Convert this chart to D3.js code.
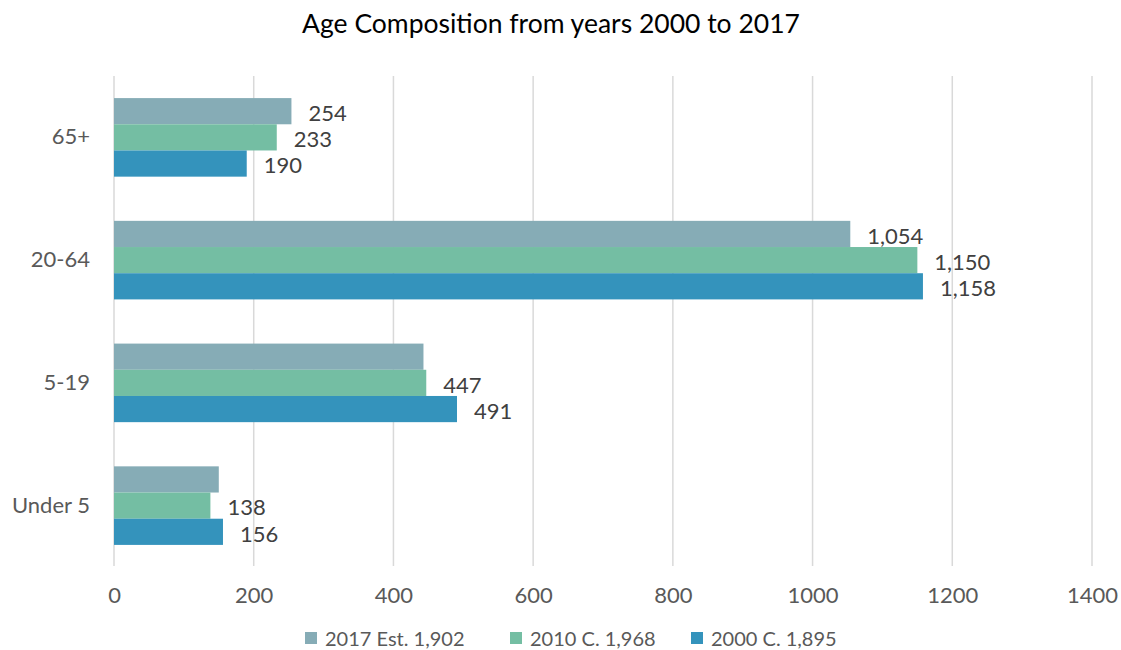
<!DOCTYPE html>
<html>
<head>
<meta charset="utf-8">
<script src="https://cdn.jsdelivr.net/npm/d3@7"></script>
<style>
  html, body { margin: 0; padding: 0; background: #fff; }
  svg text { font-family: Lato, "Open Sans", sans-serif; }
</style>
</head>
<body>
<svg id="chart" width="1121" height="650"></svg>
<script>
// ---- data ----
const categories = ["65+", "20-64", "5-19", "Under 5"];
const seriesNames = ["2017 Est. 1,902", "2010 C. 1,968", "2000 C. 1,895"];
const values2017 = [254, 1054, 443, 150];
const values2010 = [233, 1150, 447, 138];
const values2000 = [190, 1158, 491, 156];
const labels2017 = ["254", "1,054", null, null];
const labels2010 = ["233", "1,150", "447", "138"];
const labels2000 = ["190", "1,158", "491", "156"];
const xTicks = [0, 200, 400, 600, 800, 1000, 1200, 1400];
const colors = ["#86ACB6", "#74BEA3", "#3493BC"];
const title = "Age Composition from years 2000 to 2017";

const series = [
  { name: seriesNames[0], values: values2017, labels: labels2017, color: colors[0] },
  { name: seriesNames[1], values: values2010, labels: labels2010, color: colors[1] },
  { name: seriesNames[2], values: values2000, labels: labels2000, color: colors[2] }
];

const svg = d3.select("#chart");
const FONT = "Lato, 'Open Sans', sans-serif";

const x = d3.scaleLinear().domain([0, 1400]).range([114, 1092]);
const y = d3.scaleBand().domain(categories).range([76, 567]).paddingInner(0.36).paddingOuter(0.18);
const ySub = d3.scaleBand().domain(seriesNames).range([0, y.bandwidth()]);

// title
svg.append("text")
  .attr("x", 551).attr("y", 33)
  .attr("text-anchor", "middle")
  .attr("font-size", 26.5)
  .attr("fill", "#000")
  .text(title);

// gridlines
svg.append("g")
  .selectAll("line")
  .data(xTicks)
  .join("line")
  .attr("x1", d => x(d)).attr("x2", d => x(d))
  .attr("y1", 76).attr("y2", 566)
  .attr("stroke", "#d9d9d9").attr("stroke-width", 1.5);

// x axis labels
const xAxis = d3.axisBottom(x).tickValues(xTicks).tickSize(0).tickPadding(0).tickFormat(d3.format("d"));
const gx = svg.append("g").attr("transform", `translate(0, 587)`).call(xAxis);
gx.select(".domain").remove();
gx.selectAll("text").attr("font-size", 22).attr("fill", "#595959").attr("dy", "0.71em").attr("font-family", FONT);

// y axis labels
const yAxis = d3.axisLeft(y).tickSize(0).tickPadding(0);
const gy = svg.append("g").attr("transform", `translate(90, 0)`).call(yAxis);
gy.select(".domain").remove();
gy.selectAll("text").attr("font-size", 22).attr("fill", "#595959").attr("font-family", FONT);

// bars
const groups = svg.append("g")
  .selectAll("g")
  .data(series)
  .join("g")
  .attr("fill", d => d.color);

groups.selectAll("rect")
  .data(s => s.values.map((v, i) => ({ v, cat: categories[i], name: s.name })))
  .join("rect")
  .attr("x", x(0))
  .attr("y", d => y(d.cat) + ySub(d.name))
  .attr("width", d => x(d.v) - x(0))
  .attr("height", ySub.bandwidth());

// value labels
groups.selectAll("text")
  .data(s => s.values.map((v, i) => ({ v, cat: categories[i], name: s.name, label: s.labels[i] })).filter(d => d.label))
  .join("text")
  .attr("x", d => x(d.v) + 17)
  .attr("y", d => y(d.cat) + ySub(d.name) + ySub.bandwidth() / 2 + 2)
  .attr("dy", "0.35em")
  .attr("font-size", 22)
  .attr("fill", "#404040")
  .text(d => d.label);

// legend
const legendX = [305, 510, 691];
const legend = svg.append("g")
  .selectAll("g")
  .data(series)
  .join("g")
  .attr("transform", (d, i) => `translate(${legendX[i]}, 632)`);
legend.append("rect").attr("width", 12).attr("height", 12).attr("fill", d => d.color);
legend.append("text")
  .attr("x", 20).attr("y", 14)
  .attr("font-size", 20).attr("fill", "#595959")
  .text(d => d.name);
</script>
</body>
</html>
